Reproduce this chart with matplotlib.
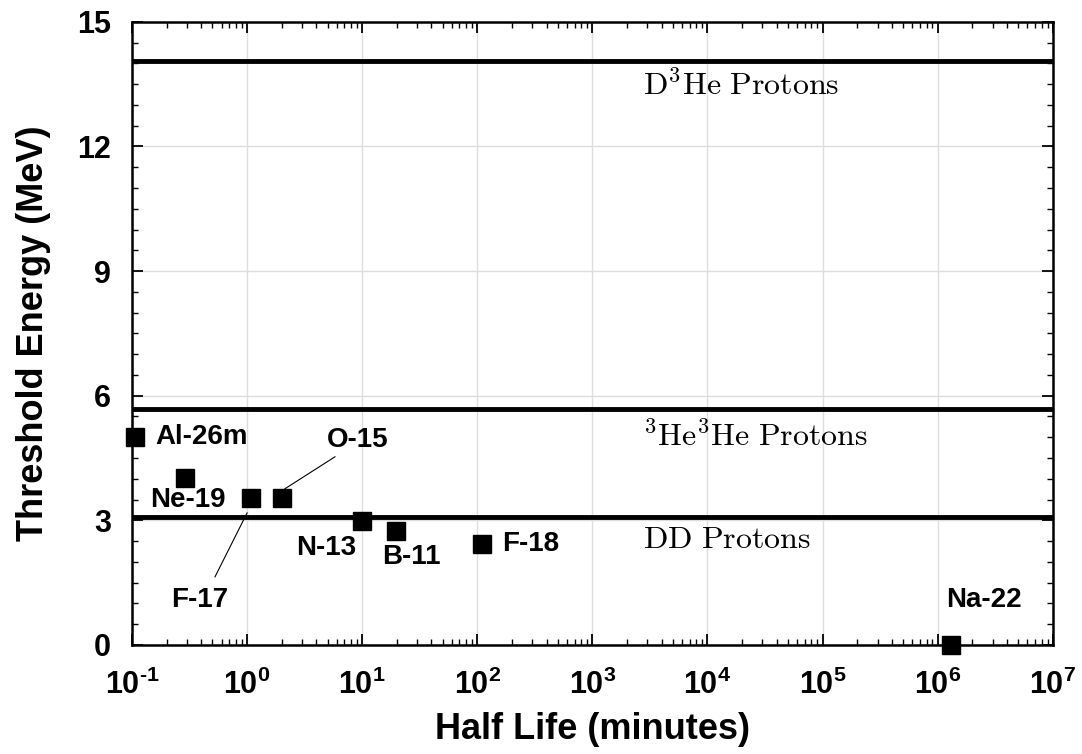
import math
import matplotlib
matplotlib.use('Agg')
import matplotlib.pyplot as plt
from matplotlib.ticker import FuncFormatter

plt.rcParams['font.family'] = ['Liberation Sans', 'DejaVu Sans']
plt.rcParams['mathtext.fontset'] = 'custom'
plt.rcParams['mathtext.rm'] = 'Liberation Sans:bold'
plt.rcParams['mathtext.bf'] = 'Liberation Sans:bold'
plt.rcParams['mathtext.it'] = 'Liberation Sans:bold'

# isotopes: half life (minutes) vs threshold energy (MeV)
isotopes = ['Al-26m', 'Ne-19', 'F-17', 'O-15', 'N-13', 'B-11', 'F-18', 'Na-22']
half_life = [0.106, 0.29, 1.08, 2.03, 9.97, 19.6, 110.0, 1.3e6]
threshold = [5.0, 4.02, 3.54, 3.54, 2.99, 2.75, 2.43, 0.0]

# proton energies of the reactions (MeV)
proton_names = [r'$\mathrm{D^3He\ Protons}$', r'$\mathrm{{}^3He^3He\ Protons}$', r'$\mathrm{DD\ Protons}$']
proton_energy = [14.05, 5.69, 3.08]


def decade_label(v, pos):
    k = round(math.log10(v))
    exp = str(k).replace('-', '\u2010')
    return r'$\mathrm{10^{%s}}$' % exp


fig = plt.figure(figsize=(10.82, 7.54), dpi=100)
ax = fig.add_axes([0.122, 0.1446, 0.851, 0.8264])

ax.set_xscale('log')
ax.set_xlim(0.1, 1e7)
ax.set_ylim(0, 15)

ax.grid(True, which='major', color='#dddddd', linewidth=1)
ax.set_axisbelow(True)

for e in proton_energy:
    ax.axhline(e, color='black', linewidth=3.5, zorder=2)

ax.plot(half_life, threshold, 's', color='black', markersize=13.5, clip_on=False, zorder=3)

# reaction labels (LaTeX-like serif)
lab_y = [13.45, 5.0, 2.53]
for name, y in zip(proton_names, lab_y):
    ax.text(2750, y, name, fontsize=23, ha='left', va='center', math_fontfamily='cm')

# isotope labels
bold = dict(fontsize=20, fontweight='bold')
ax.text(0.158, 5.0, 'Al-26m', ha='left', va='center', **bold)
ax.text(0.656, 3.49, 'Ne-19', ha='right', va='center', **bold)
ax.text(4.94, 4.94, 'O-15', ha='left', va='center', **bold)
ax.text(0.39, 1.08, 'F-17', ha='center', va='center', **bold)
ax.text(8.8, 2.34, 'N-13', ha='right', va='center', **bold)
ax.text(14.9, 2.12, 'B-11', ha='left', va='center', **bold)
ax.text(164, 2.43, 'F-18', ha='left', va='center', **bold)
ax.text(2.5e6, 1.08, 'Na-22', ha='center', va='center', **bold)

# leader lines
ax.plot([5.8, 2.13], [4.53, 3.76], color='black', linewidth=0.8)
ax.plot([0.526, 1.0], [1.64, 3.18], color='black', linewidth=0.8)

ax.set_yticks([0, 3, 6, 9, 12, 15])
ax.set_yticks([v * 0.5 for v in range(31)], minor=True)
ax.set_xticks([10.0 ** k for k in range(-1, 8)])
ax.xaxis.set_major_formatter(FuncFormatter(decade_label))

ax.tick_params(which='both', direction='in', top=True, right=True)
ax.tick_params(which='major', length=8, width=1.3, labelsize=22)
ax.tick_params(axis='y', which='major', pad=15)
ax.tick_params(axis='x', which='major', pad=18)
ax.tick_params(which='minor', length=4.5, width=1)
for lab in ax.get_xticklabels() + ax.get_yticklabels():
    lab.set_fontweight('bold')

for s in ax.spines.values():
    s.set_linewidth(1.8)

ax.set_xlabel('Half Life (minutes)', fontsize=26, fontweight='bold', labelpad=8)
ax.set_ylabel('Threshold Energy (MeV)', fontsize=26, fontweight='bold', labelpad=19)

fig.savefig('out.png', dpi=100)
